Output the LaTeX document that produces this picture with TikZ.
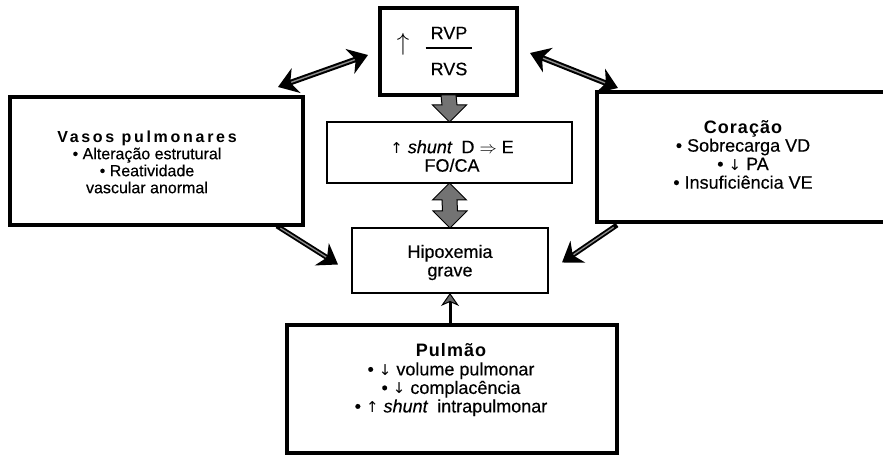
\documentclass[tikz,border=0pt]{standalone}
\usepackage{fontspec}
\setmainfont{Liberation Sans}[FakeBold=0.35]
\newfontfamily\headf{Liberation Sans Bold}[LetterSpace=6]
\newfontfamily\headwf{Liberation Sans Bold}[LetterSpace=17]
\newfontfamily\symf{DejaVu Sans}
\usetikzlibrary{arrows.meta,calc}
\newcommand\uparr{{\symf\fontsize{15bp}{18bp}\selectfont ↑}}
\newcommand\dnarr{{\symf\fontsize{15bp}{18bp}\selectfont ↓}}
\begin{document}
\begin{tikzpicture}[x=1bp,y=-1bp,
  font=\fontsize{18bp}{18.5bp}\selectfont,
  box/.style={draw, line width=3.6bp, inner sep=0pt, outer sep=0pt},
  thinbox/.style={draw, line width=2.8bp, inner sep=0pt, outer sep=0pt},
  txt/.style={align=center, inner sep=0pt},
  block/.style={draw=black, line width=1bp, fill=black!55},
  dbl/.style={line width=5.5bp, {Stealth[length=19bp,width=26bp,inset=6bp]}-{Stealth[length=19bp,width=26bp,inset=6bp]},
    postaction={draw=black!45, line width=1.4bp, -, shorten <=14bp, shorten >=14bp}},
  sgl/.style={line width=5bp, -{Stealth[length=19bp,width=26bp,inset=6bp]},
    postaction={draw=black!45, line width=1.3bp, -, shorten <=4bp, shorten >=14bp}}
]
\fill[white] (0,0) rectangle (883,459);
\useasboundingbox (0,0) rectangle (883,459);

% boxes
\node[box, minimum width=137bp, minimum height=87bp] (rvp) at (448.5,51.5) {};
\node[thinbox, minimum width=245bp, minimum height=61bp] (shunt) at (449.5,152.5) {};
\node[thinbox, minimum width=196bp, minimum height=65bp] (hipox) at (450,260.5) {};
\node[box, minimum width=293bp, minimum height=128bp] (vasos) at (156.5,161) {};
\node[box, minimum width=300bp, minimum height=130bp, anchor=west] (cor) at (597,157) {};
\node[box, minimum width=330bp, minimum height=128bp] (pulm) at (452,389) {};

% texts
\node[txt] (rvpnum) at (449,33) {RVP};
\node[txt] (rvpden) at (449,69) {RVS};
\draw[line width=1.3bp] ($(rvp.center)+(-23,-3.5)$) -- ($(rvp.center)+(23,-3.5)$);
\node[txt, font=\fontsize{31bp}{32bp}\selectfont] (rvparrow) at (403,44.5) {$\uparrow$};

\node[txt] (shuntt) at (452,156) {\uparr{} \textit{shunt}\enspace D $\Rightarrow$ E\\FO/CA};
\node[txt] (hipoxt) at (450,262.5) {Hipoxemia\\grave};
\node[txt, font=\fontsize{16bp}{17bp}\selectfont] (vasost) at (147,162) {{\headwf Vasos pulmonares}\\• Alteração estrutural\\• Reatividade\\vascular anormal};
\node[txt] (cort) at (743,154.5) {{\headf Coração}\\• Sobrecarga VD\\• \dnarr{} PA\\• Insuficiência VE};
\node[txt] (pulmt) at (451,380) {{\headf Pulmão}\\• \dnarr{} volume pulmonar\\• \dnarr{} complacência\\• \uparr{} \textit{shunt}\enspace intrapulmonar};

% grey block arrows
\draw[block] ($(rvp.south)+(-7.5,0)$) -- ($(shunt.north)+(-7.5,-17)$) -- ($(shunt.north)+(-17,-17)$)
  -- (shunt.north) -- ($(shunt.north)+(17,-17)$) -- ($(shunt.north)+(7.5,-17)$) -- ($(rvp.south)+(7.5,0)$) -- cycle;
\draw[block] (shunt.south) -- ($(shunt.south)+(17,17)$) -- ($(shunt.south)+(7.5,17)$)
  -- ($(hipox.north)+(7.5,-17)$) -- ($(hipox.north)+(17,-17)$) -- (hipox.north)
  -- ($(hipox.north)+(-17,-17)$) -- ($(hipox.north)+(-7.5,-17)$) -- ($(shunt.south)+(-7.5,17)$)
  -- ($(shunt.south)+(-17,17)$) -- cycle;

% connectors
\draw[dbl] ($(vasos.north east)+(-25,-10)$) -- ($(rvp.west)+(-12,3.5)$);
\draw[dbl] ($(rvp.east)+(13,1.5)$) -- ($(cor.north west)+(21,-4)$);
\draw[sgl] ($(vasos.south east)+(-26,1)$) -- ($(hipox.west)+(-14,4)$);
\draw[sgl] ($(cor.south west)+(20,3)$) -- ($(hipox.east)+(14,2)$);
\draw[line width=3bp, -{Stealth[length=13bp,width=18bp,inset=4bp,fill=black!60,line width=1bp]}] ($(pulm.north)+(-2,0)$) -- (hipox.south);
\end{tikzpicture}
\end{document}
